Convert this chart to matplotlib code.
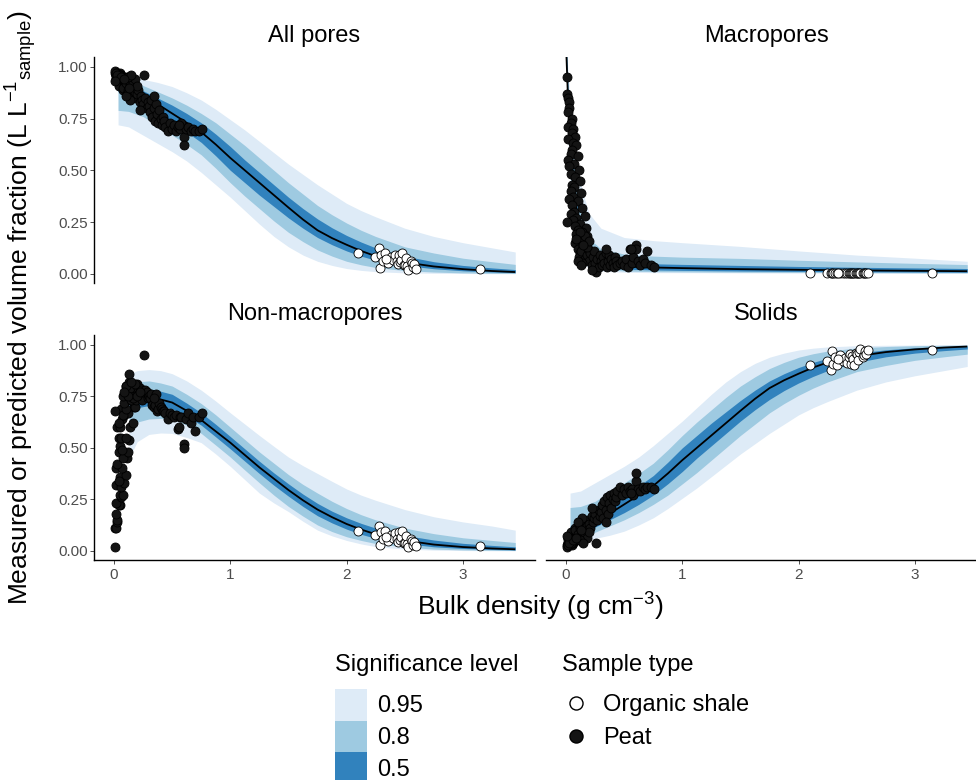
# -*- coding: utf-8 -*-
"""
Fracciones de volumen vs densidad aparente

Cuatro paneles (poros totales, macroporos, no-macroporos, solidos) con las
bandas de prediccion del modelo y las muestras medidas (turba y esquisto).
"""

import matplotlib
matplotlib.use("Agg")
import matplotlib.pyplot as plt
from matplotlib.patches import Patch
from matplotlib.lines import Line2D

plt.rcParams['font.family'] = ['Liberation Sans', 'DejaVu Sans']
plt.rcParams['mathtext.default'] = 'regular'

#%% Variables globales de plots
W, H = 976, 780          # tamanno de la figura en pixeles
lWidth = 1.3             # grosor de la linea media
ptSize = 42              # tamanno de los puntos
fontsize = 17            # titulos de panel y leyendas
axTitleSize = 19         # titulos de ejes
tickSize = 11            # numeros de los ejes
band_colors = ["#DEEBF7", "#9ECAE1", "#3182BD"]
sig_labels = ["0.95", "0.8", "0.5"]
peat_color = "#141414"

#%% Muestras medidas
# Turba: densidad aparente (g cm-3), porosidad total y macroporosidad (L L-1)
peat_bd = [0.01, 0.01, 0.02, 0.03, 0.03, 0.02, 0.05, 0.04, 0.02, 0.06,
           0.05, 0.08, 0.02, 0.06, 0.09, 0.05, 0.04, 0.10, 0.02, 0.07,
           0.03, 0.11, 0.04, 0.08, 0.12, 0.05, 0.07, 0.04, 0.13, 0.06,
           0.03, 0.10, 0.05, 0.14, 0.07, 0.04, 0.16, 0.09, 0.06, 0.01,
           0.12, 0.08, 0.17, 0.10, 0.14, 0.09, 0.18, 0.15,
           0.08, 0.10, 0.12, 0.14, 0.11, 0.15, 0.13, 0.16, 0.17, 0.18,
           0.19, 0.20, 0.14, 0.21, 0.22, 0.16, 0.23, 0.24, 0.18, 0.25,
           0.26, 0.27, 0.12, 0.20, 0.28, 0.29, 0.10, 0.30, 0.15, 0.09,
           0.13, 0.22,
           0.31, 0.32, 0.33, 0.34, 0.35, 0.36, 0.37, 0.38, 0.39, 0.40,
           0.41, 0.42, 0.43, 0.44, 0.46, 0.34,
           0.48, 0.50, 0.52, 0.53, 0.55, 0.57, 0.58, 0.60, 0.60, 0.62,
           0.64, 0.66, 0.68, 0.70, 0.73, 0.76, 0.56]
peat_por = [0.97, 0.98, 0.96, 0.97, 0.95, 0.96, 0.97, 0.95, 0.94, 0.96,
            0.95, 0.93, 0.97, 0.94, 0.95, 0.96, 0.92, 0.94, 0.95, 0.93,
            0.94, 0.95, 0.96, 0.92, 0.93, 0.94, 0.91, 0.95, 0.93, 0.92,
            0.96, 0.90, 0.93, 0.92, 0.94, 0.91, 0.90, 0.93, 0.95, 0.93,
            0.91, 0.89, 0.92, 0.90, 0.93, 0.91, 0.88, 0.90,
            0.90, 0.92, 0.89, 0.91, 0.87, 0.88, 0.93, 0.86, 0.90, 0.88,
            0.85, 0.87, 0.84, 0.89, 0.83, 0.92, 0.86, 0.84, 0.94, 0.82,
            0.96, 0.85, 0.95, 0.91, 0.80, 0.83, 0.86, 0.81, 0.96, 0.94,
            0.90, 0.79,
            0.78, 0.84, 0.76, 0.80, 0.74, 0.82, 0.77, 0.73, 0.79, 0.75,
            0.72, 0.76, 0.74, 0.71, 0.69, 0.86,
            0.73, 0.70, 0.72, 0.69, 0.71, 0.70, 0.73, 0.66, 0.62, 0.70,
            0.71, 0.69, 0.70, 0.69, 0.69, 0.70, 0.72]
peat_macro = [0.95, 0.87, 0.85, 0.83, 0.80, 0.78, 0.75, 0.73, 0.71, 0.70,
              0.68, 0.66, 0.65, 0.63, 0.62, 0.60, 0.58, 0.57, 0.55, 0.53,
              0.52, 0.50, 0.48, 0.47, 0.45, 0.43, 0.42, 0.40, 0.39, 0.37,
              0.36, 0.35, 0.33, 0.32, 0.30, 0.29, 0.28, 0.27, 0.26, 0.25,
              0.24, 0.23, 0.22, 0.21, 0.20, 0.19, 0.18, 0.17,
              0.15, 0.12, 0.10, 0.16, 0.08, 0.13, 0.11, 0.07, 0.14, 0.09,
              0.12, 0.06, 0.05, 0.10, 0.04, 0.18, 0.08, 0.11, 0.13, 0.05,
              0.01, 0.07, 0.20, 0.16, 0.03, 0.09, 0.06, 0.06, 0.14, 0.17,
              0.04, 0.02,
              0.04, 0.08, 0.05, 0.10, 0.03, 0.06, 0.09, 0.04, 0.07, 0.05,
              0.03, 0.08, 0.06, 0.04, 0.05, 0.12,
              0.06, 0.04, 0.07, 0.03, 0.12, 0.05, 0.08, 0.14, 0.12, 0.06,
              0.04, 0.07, 0.05, 0.11, 0.04, 0.03, 0.12]

# Esquisto organico
shale_bd = [2.10, 2.24, 2.28, 2.29, 2.30, 2.31, 2.33, 2.36, 2.38, 2.40,
            2.42, 2.43, 2.44, 2.45, 2.46, 2.47, 2.48, 2.49, 2.50, 2.51,
            2.52, 2.53, 2.55, 2.56, 2.57, 2.58, 2.60, 2.34, 3.15]
shale_por = [0.100, 0.080, 0.124, 0.028, 0.092, 0.060, 0.100, 0.050, 0.079, 0.065,
             0.090, 0.060, 0.045, 0.092, 0.055, 0.068, 0.100, 0.040, 0.043, 0.075,
             0.035, 0.019, 0.060, 0.050, 0.030, 0.045, 0.023, 0.070, 0.023]
shale_macro = [0.004, 0.003, 0.004, 0.002, 0.003, 0.003, 0.004, 0.002, 0.003, 0.003,
               0.004, 0.002, 0.003, 0.003, 0.002, 0.003, 0.004, 0.002, 0.003, 0.003,
               0.002, 0.002, 0.003, 0.003, 0.002, 0.002, 0.002, 0.003, 0.002]

#%% Predicciones del modelo (media y limites de las bandas)
all_grid = [0.035, 0.125, 0.25, 0.375, 0.5, 0.625, 0.75, 0.875, 1.0, 1.125, 1.25, 1.375,
            1.5, 1.625, 1.75, 1.875, 2.0, 2.125, 2.25, 2.5, 2.75, 3.0, 3.25, 3.45]
all_mean = [0.93, 0.90, 0.86, 0.82, 0.775, 0.73, 0.685, 0.625, 0.56, 0.50, 0.44, 0.38,
            0.32, 0.262, 0.21, 0.172, 0.14, 0.11, 0.085, 0.055, 0.035, 0.022, 0.013, 0.008]
all_hi95 = [0.97, 0.96, 0.94, 0.925, 0.905, 0.875, 0.84, 0.795, 0.745, 0.695, 0.64, 0.585,
            0.53, 0.48, 0.43, 0.385, 0.34, 0.305, 0.275, 0.22, 0.18, 0.15, 0.125, 0.105]
all_hi80 = [0.955, 0.94, 0.91, 0.88, 0.85, 0.815, 0.775, 0.73, 0.675, 0.62, 0.56, 0.50,
            0.44, 0.385, 0.33, 0.285, 0.245, 0.21, 0.18, 0.13, 0.10, 0.075, 0.058, 0.045]
all_hi50 = [0.945, 0.92, 0.885, 0.85, 0.815, 0.775, 0.73, 0.675, 0.615, 0.55, 0.49, 0.43,
            0.37, 0.315, 0.265, 0.222, 0.185, 0.153, 0.125, 0.085, 0.058, 0.04, 0.028, 0.02]
all_lo50 = [0.88, 0.86, 0.83, 0.78, 0.73, 0.685, 0.635, 0.57, 0.50, 0.44, 0.38, 0.325,
            0.27, 0.22, 0.175, 0.14, 0.11, 0.085, 0.065, 0.04, 0.024, 0.014, 0.008, 0.005]
all_lo80 = [0.79, 0.785, 0.76, 0.715, 0.67, 0.625, 0.575, 0.51, 0.44, 0.375, 0.315, 0.255,
            0.20, 0.155, 0.115, 0.085, 0.06, 0.043, 0.03, 0.015, 0.008, 0.004, 0.002, 0.001]
all_lo95 = [0.72, 0.71, 0.67, 0.63, 0.59, 0.545, 0.49, 0.43, 0.37, 0.305, 0.24, 0.18,
            0.13, 0.09, 0.06, 0.04, 0.025, 0.016, 0.01, 0.004, 0.002, 0.001, 0.0, 0.0]

macro_grid = [0.004, 0.02, 0.05, 0.1, 0.15, 0.2, 0.3, 0.5, 0.75, 1.0, 1.5, 2.0, 2.5, 3.0, 3.45]
macro_mean = [1.05, 0.80, 0.50, 0.25, 0.13, 0.08, 0.05, 0.035, 0.03, 0.027, 0.022, 0.019, 0.016, 0.014, 0.012]
macro_hi95 = [1.10, 0.95, 0.75, 0.50, 0.38, 0.29, 0.22, 0.175, 0.16, 0.15, 0.132, 0.11, 0.09, 0.075, 0.06]
macro_hi80 = [1.10, 0.90, 0.63, 0.36, 0.24, 0.17, 0.12, 0.095, 0.085, 0.08, 0.074, 0.065, 0.057, 0.05, 0.044]
macro_hi50 = [1.10, 0.85, 0.56, 0.30, 0.17, 0.11, 0.072, 0.055, 0.048, 0.045, 0.04, 0.035, 0.031, 0.028, 0.025]
macro_lo50 = [1.00, 0.74, 0.44, 0.20, 0.10, 0.06, 0.035, 0.022, 0.018, 0.016, 0.013, 0.011, 0.009, 0.008, 0.007]
macro_lo80 = [0.98, 0.68, 0.37, 0.15, 0.07, 0.04, 0.022, 0.013, 0.010, 0.009, 0.007, 0.006, 0.005, 0.004, 0.004]
macro_lo95 = [0.96, 0.60, 0.28, 0.10, 0.045, 0.025, 0.012, 0.007, 0.005, 0.005, 0.004, 0.003, 0.003, 0.002, 0.002]

nm_grid = [0.13, 0.2, 0.3, 0.4, 0.5, 0.625, 0.75, 0.875, 1.0, 1.125, 1.25, 1.375,
           1.5, 1.625, 1.75, 1.875, 2.0, 2.125, 2.25, 2.5, 2.75, 3.0, 3.25, 3.45]
nm_mean = [0.71, 0.74, 0.745, 0.735, 0.72, 0.68, 0.635, 0.58, 0.525, 0.465, 0.405, 0.35,
           0.295, 0.245, 0.20, 0.163, 0.13, 0.103, 0.08, 0.05, 0.03, 0.018, 0.011, 0.007]
nm_hi95 = [0.86, 0.875, 0.88, 0.875, 0.86, 0.825, 0.78, 0.727, 0.67, 0.615, 0.56, 0.507,
           0.455, 0.413, 0.375, 0.337, 0.30, 0.27, 0.245, 0.20, 0.165, 0.14, 0.12, 0.10]
nm_hi80 = [0.80, 0.82, 0.825, 0.815, 0.80, 0.76, 0.715, 0.66, 0.60, 0.54, 0.48, 0.425,
           0.37, 0.322, 0.28, 0.24, 0.205, 0.175, 0.15, 0.11, 0.083, 0.063, 0.05, 0.04]
nm_hi50 = [0.76, 0.78, 0.785, 0.775, 0.76, 0.717, 0.67, 0.614, 0.555, 0.495, 0.435, 0.378,
           0.325, 0.275, 0.23, 0.192, 0.16, 0.133, 0.11, 0.075, 0.052, 0.036, 0.026, 0.019]
nm_lo50 = [0.66, 0.695, 0.705, 0.70, 0.69, 0.653, 0.61, 0.553, 0.495, 0.435, 0.375, 0.318,
           0.265, 0.215, 0.17, 0.135, 0.105, 0.08, 0.06, 0.035, 0.019, 0.011, 0.006, 0.004]
nm_lo80 = [0.58, 0.625, 0.64, 0.643, 0.64, 0.61, 0.57, 0.513, 0.455, 0.392, 0.33, 0.27,
           0.215, 0.168, 0.125, 0.093, 0.068, 0.05, 0.035, 0.018, 0.008, 0.004, 0.002, 0.001]
nm_lo95 = [0.45, 0.53, 0.565, 0.572, 0.57, 0.55, 0.525, 0.47, 0.41, 0.345, 0.28, 0.232,
           0.19, 0.143, 0.10, 0.072, 0.05, 0.033, 0.02, 0.008, 0.003, 0.001, 0.0, 0.0]


#%% Funciones
def Complement(arr):
    # solidos = 1 - porosidad total
    return [1 - v for v in arr]


def Diff(a, b):
    return [x - y for x, y in zip(a, b)]


def Axe_Panel(ax, grid, bands, mean, peat_y, shale_y, title,
              show_x=False, show_y=False):
    """
    Axe_Panel:
        bandas (0.95, 0.8, 0.5), linea media y las muestras
    """
    for (lo, hi), col in zip(bands, band_colors):
        ax.fill_between(grid, lo, hi, color=col, lw=0)
    ax.plot(grid, mean, color="black", lw=lWidth, solid_capstyle="butt")
    ax.scatter(shale_bd, shale_y, s=ptSize, facecolor="white",
               edgecolor="black", lw=0.6, zorder=3)
    ax.scatter(peat_bd, peat_y, s=ptSize, facecolor=peat_color,
               edgecolor="black", lw=0.6, zorder=3)

    ax.set_xlim(-0.172, 3.62)
    ax.set_ylim(-0.045, 1.048)
    ax.set_title(title, fontsize=fontsize, pad=11)
    for side in ["top", "right", "left", "bottom"]:
        ax.spines[side].set_visible(False)
    ax.tick_params(colors="#333333", labelcolor="#4D4D4D", labelsize=tickSize,
                   length=3, width=0.6)
    if show_y:
        ax.spines["left"].set_visible(True)
        ax.spines["left"].set_linewidth(1.0)
        ax.set_yticks([0, 0.25, 0.5, 0.75, 1.0])
        ax.set_yticklabels(["0.00", "0.25", "0.50", "0.75", "1.00"])
        ax.tick_params(axis="y", pad=1.5)
    else:
        ax.set_yticks([])
    if show_x:
        ax.spines["bottom"].set_visible(True)
        ax.spines["bottom"].set_linewidth(1.0)
        ax.set_xticks([0, 1, 2, 3])
        ax.tick_params(axis="x", pad=3)
    else:
        ax.set_xticks([])
    return


def Add_Axes(fig, x0, y0, x1, y1):
    # posiciones en pixeles (origen arriba a la izquierda)
    return fig.add_axes([x0 / W, 1 - y1 / H, (x1 - x0) / W, (y1 - y0) / H])


#%% Figura
fig = plt.figure(figsize=(W / 100, H / 100), dpi=100)

ax_all = Add_Axes(fig, 94, 57, 535, 283)
ax_mac = Add_Axes(fig, 546, 57, 987, 283)
ax_nm = Add_Axes(fig, 94, 335, 535, 560)
ax_sol = Add_Axes(fig, 546, 335, 987, 560)

Axe_Panel(ax_all, all_grid,
          [(all_lo95, all_hi95), (all_lo80, all_hi80), (all_lo50, all_hi50)],
          all_mean, peat_por, shale_por, "All pores", show_y=True)
Axe_Panel(ax_mac, macro_grid,
          [(macro_lo95, macro_hi95), (macro_lo80, macro_hi80), (macro_lo50, macro_hi50)],
          macro_mean, peat_macro, shale_macro, "Macropores")
Axe_Panel(ax_nm, nm_grid,
          [(nm_lo95, nm_hi95), (nm_lo80, nm_hi80), (nm_lo50, nm_hi50)],
          nm_mean, Diff(peat_por, peat_macro), Diff(shale_por, shale_macro),
          "Non-macropores", show_x=True, show_y=True)
Axe_Panel(ax_sol, all_grid,
          [(Complement(all_hi95), Complement(all_lo95)),
           (Complement(all_hi80), Complement(all_lo80)),
           (Complement(all_hi50), Complement(all_lo50))],
          Complement(all_mean), Complement(peat_por), Complement(shale_por),
          "Solids", show_x=True)

# Titulos de ejes
fig.text(21 / W, 1 - 308 / H,
         r"Measured or predicted volume fraction (L L$^{-1}$$_{sample}$)",
         rotation=90, ha="center", va="center", fontsize=axTitleSize)
fig.text(540 / W, 1 - 607 / H, r"Bulk density (g cm$^{-3}$)",
         ha="center", va="center", fontsize=axTitleSize)

# Leyendas
fig.text(335 / W, 1 - 665 / H, "Significance level", ha="left", va="center",
         fontsize=fontsize)
sig_handles = [Patch(facecolor=c, edgecolor="none") for c in band_colors]
fig.legend(sig_handles, sig_labels, loc="upper left",
           bbox_to_anchor=(335 / W, 1 - 689 / H), frameon=False,
           fontsize=fontsize, handlelength=1.36, handleheight=1.68,
           labelspacing=0, handletextpad=0.42, borderpad=0, borderaxespad=0)

fig.text(562 / W, 1 - 665 / H, "Sample type", ha="left", va="center",
         fontsize=fontsize)
type_handles = [Line2D([], [], marker="o", ls="none", markersize=9.4,
                       markerfacecolor="white", markeredgecolor="black"),
                Line2D([], [], marker="o", ls="none", markersize=9.4,
                       markerfacecolor=peat_color, markeredgecolor="black")]
fig.legend(type_handles, ["Organic shale", "Peat"], loc="upper left",
           bbox_to_anchor=(564 / W, 1 - 694 / H), frameon=False,
           fontsize=fontsize, handlelength=1.0, labelspacing=0.48,
           handletextpad=0.65, borderpad=0, borderaxespad=0)

fig.savefig("out.png", dpi=100)
